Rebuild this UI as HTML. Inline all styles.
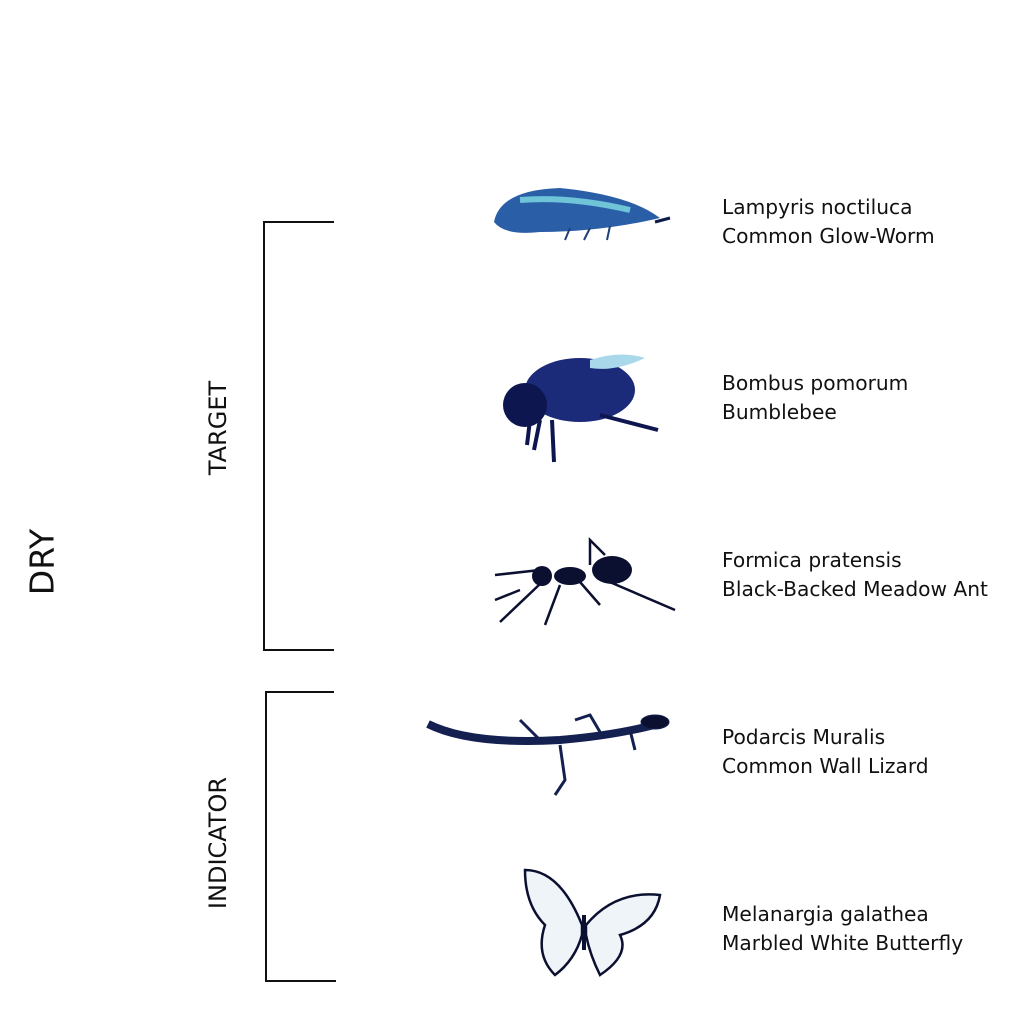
<!DOCTYPE html>
<html><head><meta charset="utf-8"><style>
body{margin:0;width:1024px;height:1024px;background:#fff;position:relative;overflow:hidden;font-family:"DejaVu Sans","Liberation Sans",sans-serif}
.lbl{position:absolute;left:722px;font-size:20.2px;line-height:29px;color:#111}
.rot{position:absolute;transform:translate(-50%,-50%) rotate(-90deg);white-space:nowrap;color:#111}
</style></head><body>
<div class="rot" style="left:42px;top:562px;font-size:33px">DRY</div>
<div class="rot" style="left:218px;top:428px;font-size:24px">TARGET</div>
<div class="rot" style="left:218px;top:843px;font-size:24px">INDICATOR</div>
<svg width="1024" height="1024" style="position:absolute;left:0;top:0">
<g stroke="#111" stroke-width="2" fill="none">
<path d="M334 222H264V650H334"/></g>
<g stroke="#111" stroke-width="2" fill="none">
<path d="M334 692H266V981H336"/></g>
<g>
<path d="M494 222 Q500 190 560 188 Q630 195 660 218 Q600 232 540 232 Q505 236 494 222Z" fill="#2a5fa8"/>
<path d="M520 200 Q570 196 630 210" stroke="#6fc4d8" stroke-width="6" fill="none"/>
<path d="M655 222 L670 218" stroke="#0c1a4a" stroke-width="3"/>
<path d="M570 228l-5 12M590 228l-6 12M610 226l-3 14" stroke="#20407a" stroke-width="2"/></g>
<g>
<ellipse cx="580" cy="390" rx="55" ry="32" fill="#1c2a7a"/>
<ellipse cx="525" cy="405" rx="22" ry="22" fill="#0e1650"/>
<path d="M590 360 Q620 350 645 358 Q615 372 590 368Z" fill="#a9d8ea"/>
<path d="M600 415L658 430M530 420l-3 25M552 420l2 42M540 420l-6 30" stroke="#0e1650" stroke-width="4"/></g>
<g fill="#0c1030">
<ellipse cx="612" cy="570" rx="20" ry="14"/><ellipse cx="570" cy="576" rx="16" ry="9"/><circle cx="542" cy="576" r="10"/>
<path d="M495 575L540 570M500 622L540 584M560 585L545 625M580 582L600 605M605 580L675 610M590 565L590 540L605 555M520 590L495 600" stroke="#0c1030" stroke-width="2.5" fill="none"/></g>
<g stroke="#142050" fill="none">
<path d="M428 724 Q470 745 560 740 Q620 735 665 722" stroke-width="8"/>
<ellipse cx="655" cy="722" rx="14" ry="7" fill="#0c1030"/>
<path d="M600 732L590 715L575 720M630 730L635 750M560 745L565 780L555 795M540 740L520 720" stroke-width="3"/></g>
<g stroke="#0c1030" stroke-width="2.5" fill="#eef4f8">
<path d="M582 925 Q560 870 525 870 Q525 905 545 925 Q535 955 555 975 Q575 960 582 935Z"/>
<path d="M586 925 Q615 890 660 895 Q655 925 620 935 Q630 955 600 975 Q590 955 586 935Z"/>
<path d="M584 915V950" stroke-width="4"/></g>
</svg>
<div class="lbl" style="top:193px">Lampyris noctiluca<br>Common Glow-Worm</div>
<div class="lbl" style="top:369px">Bombus pomorum<br>Bumblebee</div>
<div class="lbl" style="top:546px">Formica pratensis<br>Black-Backed Meadow Ant</div>
<div class="lbl" style="top:723px">Podarcis Muralis<br>Common Wall Lizard</div>
<div class="lbl" style="top:900px">Melanargia galathea<br>Marbled White Butterfly</div>
</body></html>
